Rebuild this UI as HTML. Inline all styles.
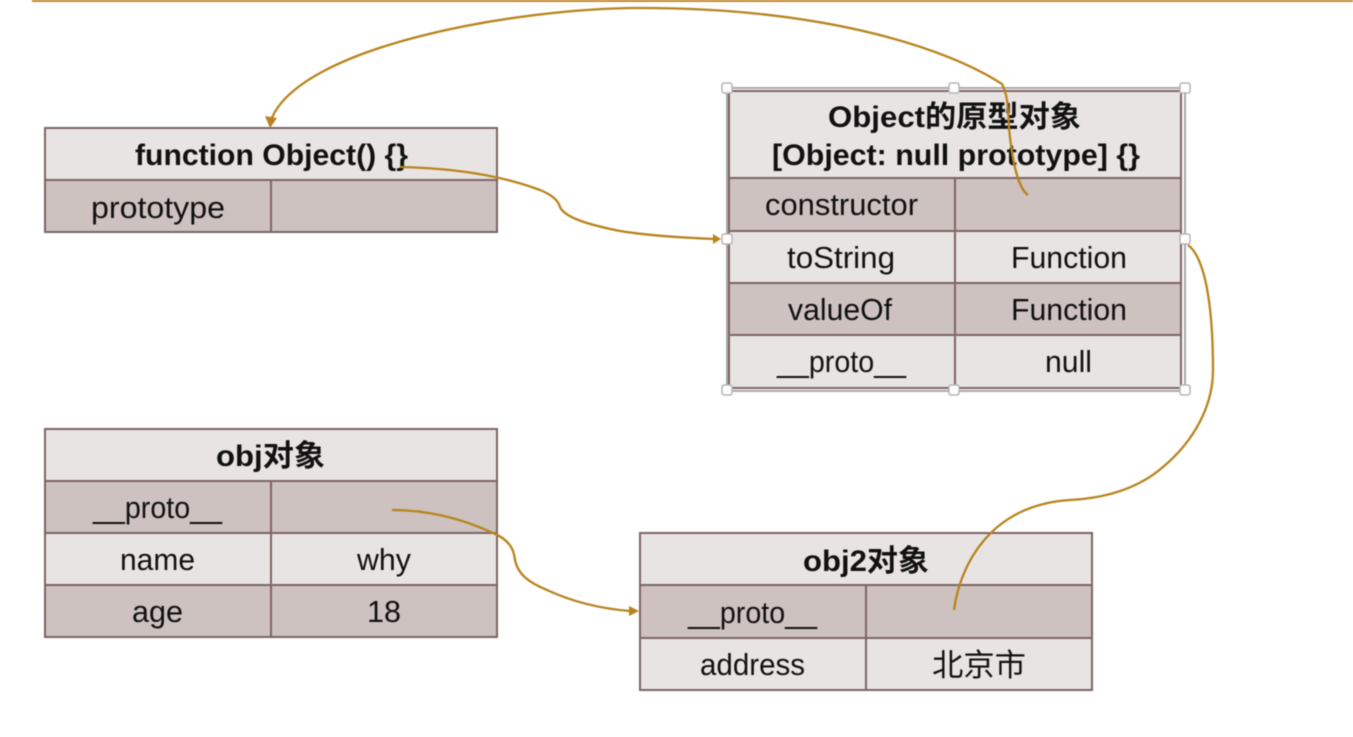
<!DOCTYPE html>
<html><head><meta charset="utf-8"><style>
html,body{margin:0;padding:0;background:#fff;width:1353px;height:737px;overflow:hidden}
svg{display:block;filter:blur(0.45px)}
text{font-family:"Liberation Sans","Noto Sans CJK SC",sans-serif;fill:#111;font-size:31px}
.b{font-weight:bold;font-size:30px}
.l{fill:#e9e4e4}.d{fill:#cdc2bf}
.g{stroke:#7d6464;stroke-width:2;fill:none}
.c{stroke:#b8831c;stroke-width:2.3;fill:none}
.h{fill:#fff;stroke:#b5b5b5;stroke-width:1.5}
</style></head><body>
<svg width="1353" height="737" viewBox="0 0 1353 737" xmlns="http://www.w3.org/2000/svg">
<rect x="32" y="0" width="1321" height="2" fill="#c08a2c"/>

<!-- function Object -->
<rect class="l" x="45" y="128" width="452" height="52"/>
<rect class="d" x="45" y="180" width="452" height="52"/>
<path class="g" d="M45 128H497V232H45ZM45 180H497M271 180V232"/>
<text class="b" x="135" y="165" textLength="273" lengthAdjust="spacingAndGlyphs">function Object() {}</text>
<text x="91" y="218" textLength="134" lengthAdjust="spacingAndGlyphs">prototype</text>

<!-- Object prototype -->
<rect class="l" x="729" y="91" width="452" height="87"/>
<rect class="d" x="729" y="178" width="452" height="53"/>
<rect class="l" x="729" y="231" width="452" height="52"/>
<rect class="d" x="729" y="283" width="452" height="52"/>
<rect class="l" x="729" y="335" width="452" height="53"/>
<path class="g" d="M729 91H1181V388H729ZM729 178H1181M729 231H1181M729 283H1181M729 335H1181M955 178V388"/>
<rect x="727" y="88" width="458" height="303" fill="none" stroke="#a9a9a9" stroke-width="2"/>
<text class="b" x="828" y="127" textLength="253" lengthAdjust="spacingAndGlyphs">Object的原型对象</text>
<text class="b" x="772" y="165" textLength="368" lengthAdjust="spacingAndGlyphs">[Object: null prototype] {}</text>
<text x="765" y="215" textLength="153" lengthAdjust="spacingAndGlyphs">constructor</text>
<text x="787" y="268" textLength="108" lengthAdjust="spacingAndGlyphs">toString</text>
<text x="1011" y="268" textLength="116" lengthAdjust="spacingAndGlyphs">Function</text>
<text x="788" y="320" textLength="104" lengthAdjust="spacingAndGlyphs">valueOf</text>
<text x="1011" y="320" textLength="116" lengthAdjust="spacingAndGlyphs">Function</text>
<text x="777" y="372" textLength="129" lengthAdjust="spacingAndGlyphs">__proto__</text>
<text x="1045" y="372" textLength="47" lengthAdjust="spacingAndGlyphs">null</text>

<!-- obj -->
<rect class="l" x="45" y="429" width="452" height="52"/>
<rect class="d" x="45" y="481" width="452" height="52"/>
<rect class="l" x="45" y="533" width="452" height="52"/>
<rect class="d" x="45" y="585" width="452" height="52"/>
<path class="g" d="M45 429H497V637H45ZM45 481H497M45 533H497M45 585H497M271 481V637"/>
<text class="b" x="216" y="466" textLength="109" lengthAdjust="spacingAndGlyphs">obj对象</text>
<text x="93" y="518" textLength="129" lengthAdjust="spacingAndGlyphs">__proto__</text>
<text x="120" y="570" textLength="75" lengthAdjust="spacingAndGlyphs">name</text>
<text x="357" y="570" textLength="54" lengthAdjust="spacingAndGlyphs">why</text>
<text x="132" y="622" textLength="51" lengthAdjust="spacingAndGlyphs">age</text>
<text x="367" y="622" textLength="34" lengthAdjust="spacingAndGlyphs">18</text>

<!-- obj2 -->
<rect class="l" x="640" y="533" width="452" height="52"/>
<rect class="d" x="640" y="585" width="452" height="53"/>
<rect class="l" x="640" y="638" width="452" height="52"/>
<path class="g" d="M640 533H1092V690H640ZM640 585H1092M640 638H1092M866 585V690"/>
<text class="b" x="803" y="571" textLength="126" lengthAdjust="spacingAndGlyphs">obj2对象</text>
<text x="688" y="623" textLength="129" lengthAdjust="spacingAndGlyphs">__proto__</text>
<text x="700" y="675" textLength="105" lengthAdjust="spacingAndGlyphs">address</text>
<text x="932" y="676" textLength="94" lengthAdjust="spacingAndGlyphs">北京市</text>

<!-- connectors -->
<path class="c" d="M1028 195C1018 188 1012 160 1009 128C1008 110 1008 95 1002 84C950 50 830 8 640 8C520 8 300 45 271 120"/>
<path d="M265 116L277 118L270 128Z" fill="#b8831c"/>
<path class="c" d="M400 167C450 168 500 175 540 190C552 195 558 200 560 207C565 218 590 225 620 231C650 236 690 238 714 239"/>
<path class="c" d="M392 510C430 510 465 520 493 533C510 540 514 550 515 560C518 575 530 583 547 590C575 603 605 609 630 611"/>
<path d="M639 611L629 606V616Z" fill="#b8831c"/>
<path class="c" d="M954 610C960 565 990 505 1070 500C1110 498 1140 487 1163 467C1195 440 1213 405 1213 370C1213 320 1208 260 1188 245"/>

<!-- handles -->
<rect class="h" x="722" y="83" width="10" height="10" rx="2"/>
<rect class="h" x="949" y="83" width="10" height="10" rx="2"/>
<rect class="h" x="1180" y="83" width="10" height="10" rx="2"/>
<rect class="h" x="722" y="234" width="10" height="10" rx="2"/>
<rect class="h" x="1180" y="234" width="10" height="10" rx="2"/>
<rect class="h" x="722" y="385" width="10" height="10" rx="2"/>
<rect class="h" x="949" y="385" width="10" height="10" rx="2"/>
<rect class="h" x="1180" y="385" width="10" height="10" rx="2"/>
<path d="M721 239L713 234V244Z" fill="#b8831c"/>
</svg>
</body></html>
